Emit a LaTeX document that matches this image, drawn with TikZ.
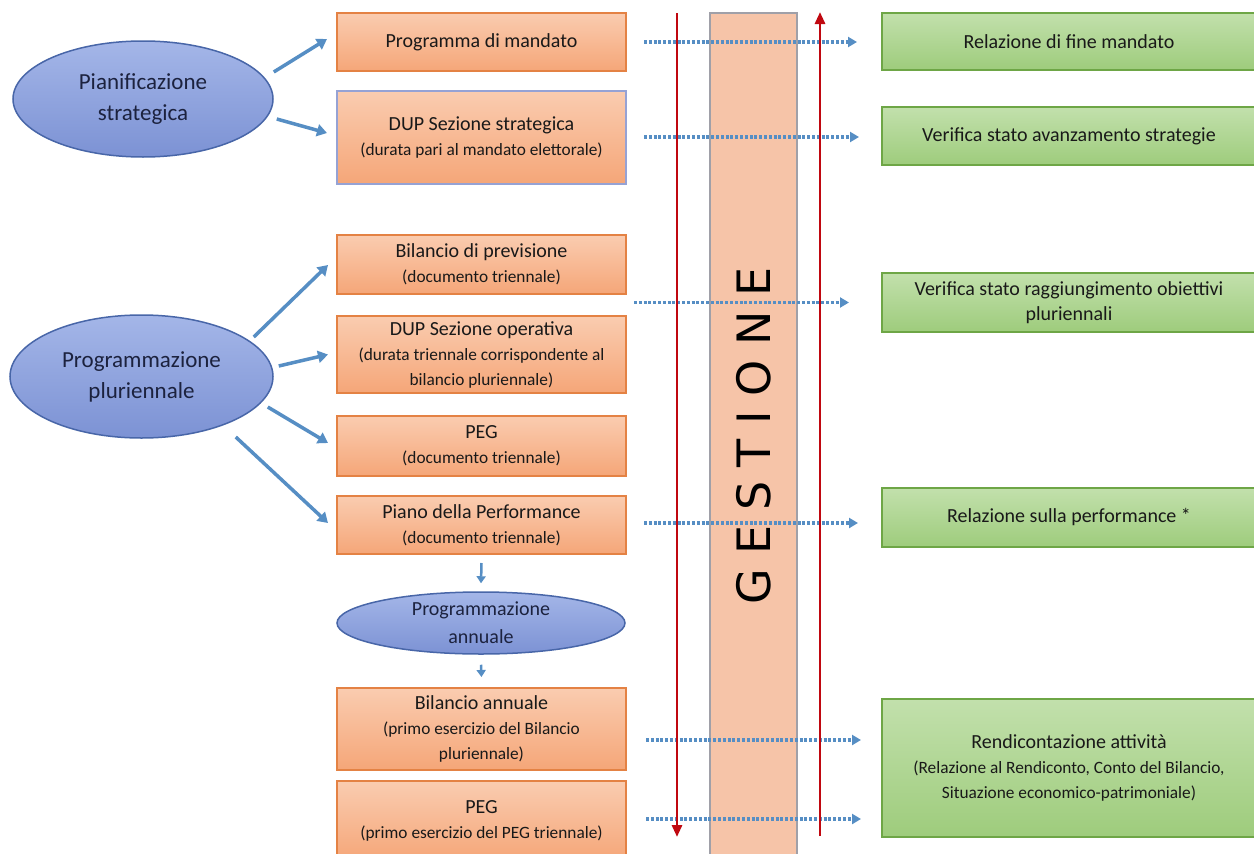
\documentclass[tikz,border=0pt]{standalone}
\usepackage{fontspec}
\setmainfont{Carlito}
\newfontfamily\gfont{DejaVu Sans}
\usetikzlibrary{arrows.meta,shapes.geometric}
\newcommand\mtxt{\fontsize{20}{25}\selectfont}
\newcommand\stxt{\fontsize{17.3}{25}\selectfont}
\newcommand\etxt{\fontsize{23}{31}\selectfont}
\newcommand\atxt{\fontsize{20}{28}\selectfont}
\definecolor{otop}{RGB}{250,204,176}
\definecolor{obot}{RGB}{245,166,120}
\definecolor{oborder}{RGB}{228,130,68}
\definecolor{pborder}{RGB}{150,162,212}
\definecolor{gtop}{RGB}{194,224,172}
\definecolor{gbot}{RGB}{158,204,124}
\definecolor{gborder}{RGB}{110,166,70}
\definecolor{etop}{RGB}{164,182,232}
\definecolor{ebot}{RGB}{124,146,212}
\definecolor{eborder}{RGB}{72,102,168}
\definecolor{etext}{RGB}{28,34,62}
\definecolor{ablue}{RGB}{86,142,196}
\definecolor{dred}{RGB}{192,8,16}
\definecolor{barfill}{RGB}{246,196,168}
\definecolor{bargray}{RGB}{160,160,168}
\tikzset{
  obox/.style={draw=oborder, line width=2pt, top color=otop, bottom color=obot,
    minimum width=289pt, align=center, font=\mtxt, text=black!90, inner sep=2pt},
  gbox/.style={draw=gborder, line width=2pt, top color=gtop, bottom color=gbot,
    minimum width=374pt, align=center, font=\mtxt, text=black!90, inner sep=2pt},
  ell/.style={ellipse, draw=eborder, line width=1.5pt, top color=etop, bottom color=ebot,
    align=center, font=\etxt, text=etext, inner sep=0pt},
  barrow/.style={draw=ablue, line width=3.5pt, -{Triangle[length=10pt,width=12pt]}},
  sarrow/.style={draw=ablue, line width=2.5pt, -{Triangle[length=7pt,width=9pt]}},
  darrow/.style={draw=ablue, line width=3.2pt, dash pattern=on 3pt off 1.8pt,
    -{Triangle[length=9pt,width=10pt]}},
  rarrow/.style={draw=dred, line width=2.8pt, -{Triangle[length=12pt,width=10pt]}},
}
\begin{document}
\begin{tikzpicture}[x=1pt,y=-1pt]
\useasboundingbox (0,0) rectangle (1254,854);
\fill[white] (0,0) rectangle (1254,854);

% GESTIONE bar
\node[draw=bargray, fill=barfill, line width=1.2pt, minimum width=87pt,
  minimum height=860pt, inner sep=0pt] (bar) at (753.5,443) {};
\node[rotate=90, font=\gfont\fontsize{46}{46}\selectfont, text=black, inner sep=0pt]
  (gest) at (754,436) {G E S T I O N E};

% ellipses
\node[ell, minimum width=260pt, minimum height=116pt] (e1) at (143,99)
  {Pianificazione\\strategica};
\node[ell, minimum width=263pt, minimum height=123pt] (e2) at (141.5,376.5)
  {Programmazione\\pluriennale};
\node[ell, minimum width=288pt, minimum height=62pt,
  label={[font=\atxt, align=center, text=etext]center:{Programmazione\\annuale}}]
  (e3) at (481,623) {};

% orange boxes
\node[obox, minimum height=58pt] (b1) at (481.5,42) {Programma di mandato};
\node[obox, draw=pborder, minimum height=93pt] (b2) at (481.5,137.5)
  {DUP Sezione strategica\\\stxt (durata pari al mandato elettorale)};
\node[obox, minimum height=59pt] (b3) at (481.5,264.5)
  {Bilancio di previsione\\\stxt (documento triennale)};
\node[obox, minimum height=77pt] (b4) at (481.5,354.5)
  {DUP Sezione operativa\\\stxt (durata triennale corrispondente al\\\stxt bilancio pluriennale)};
\node[obox, minimum height=60pt] (b5) at (481.5,446)
  {PEG\\\stxt (documento triennale)};
\node[obox, minimum height=58pt] (b6) at (481.5,525)
  {Piano della Performance\\\stxt (documento triennale)};
\node[obox, minimum height=82pt] (b7) at (481.5,729)
  {Bilancio annuale\\\stxt (primo esercizio del Bilancio\\\stxt pluriennale)};
\node[obox, minimum height=80pt] (b8) at (481.5,821)
  {PEG\\\stxt (primo esercizio del PEG triennale)};

% green boxes
\node[gbox, minimum height=57pt] (g1) at (1069,41.5) {Relazione di fine mandato};
\node[gbox, minimum height=58pt] (g2) at (1069,136) {Verifica stato avanzamento strategie};
\node[gbox, minimum height=59pt] (g3) at (1069,302.5)
  {Verifica stato raggiungimento obiettivi\\pluriennali};
\node[gbox, minimum height=59pt] (g4) at (1069,517.5) {Relazione sulla performance *};
\node[gbox, minimum height=138pt] (g5) at (1069,768)
  {Rendicontazione attività\\\stxt (Relazione al Rendiconto, Conto del Bilancio,\\\stxt Situazione economico-patrimoniale)};

% solid blue arrows
\draw[barrow] ([yshift=27pt]e1.east) -- ([shift={(-9pt,3pt)}]b1.west);
\draw[barrow] ([shift={(3pt,-20pt)}]e1.east) -- ([shift={(-9pt,4.5pt)}]b2.west);
\draw[barrow] ([shift={(-20pt,39.5pt)}]e2.east) -- ([shift={(-8pt,-0.5pt)}]b3.west);
\draw[barrow] ([shift={(5pt,10.5pt)}]e2.east) -- ([shift={(-8pt,0pt)}]b4.west);
\draw[barrow] ([shift={(-6pt,-30.5pt)}]e2.east) -- ([shift={(-8pt,3pt)}]b5.west);
\draw[barrow] ([shift={(-38pt,-60.5pt)}]e2.east) -- ([shift={(-8pt,2pt)}]b6.west);
\draw[sarrow] ([yshift=-8pt]b6.south) -- ([yshift=8pt]e3.north);
\draw[sarrow] ([yshift=-10pt]e3.south) -- ([yshift=10pt]b7.north);

% dotted arrows
\coordinate (r1) at (b1.east);
\coordinate (r2) at ([yshift=0.5pt]b2.east);
\coordinate (r3) at (b3.east |- g3.west);
\coordinate (r4) at ([yshift=2pt]b6.east);
\coordinate (r5) at ([yshift=-11pt]b7.east);
\coordinate (r6) at ([yshift=2pt]b8.east);
\draw[darrow, shorten <=17pt, shorten >=24pt] (r1) -- (r1 -| g1.west);
\draw[darrow, shorten <=17pt, shorten >=22pt] (r2) -- (r2 -| g2.west);
\draw[darrow, shorten <=7pt, shorten >=32pt] (r3) -- (g3.west);
\draw[darrow, shorten <=17pt, shorten >=23pt] (r4) -- (r4 -| g4.west);
\draw[darrow, shorten <=19pt, shorten >=20pt] (r5) -- (r5 -| g5.west);
\draw[darrow, shorten <=19pt, shorten >=20pt] (r6) -- (r6 -| g5.west);

% red arrows
\coordinate (rdtop) at (677,13);
\coordinate (rdbot) at (677,837);
\coordinate (rutop) at (820,12);
\coordinate (rubot) at (820,836);
\draw[rarrow] (rdtop) -- (rdbot);
\draw[rarrow] (rubot) -- (rutop);
\end{tikzpicture}
\end{document}
